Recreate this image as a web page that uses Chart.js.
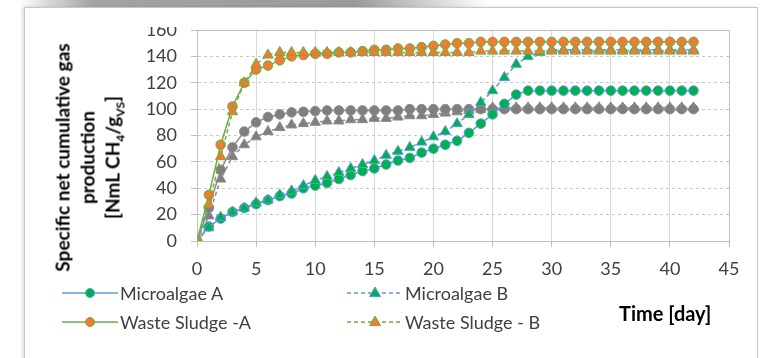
<!DOCTYPE html>
<html>
<head>
<meta charset="utf-8">
<script src="https://cdn.jsdelivr.net/npm/chart.js@4.4.1/dist/chart.umd.min.js"></script>
<style>
  html, body { margin: 0; padding: 0; background: #fff; }
  body { width: 774px; height: 358px; position: relative; overflow: hidden; font-family: Lato, 'Open Sans', sans-serif; }
  #shade { position: absolute; left: 18px; top: 0; width: 470px; height: 7px;
           background: linear-gradient(to right, #fff 0%, #a3a3a3 16%, #9b9b9b 72%, #fff 100%); }
  #card { position: absolute; left: 24px; top: 7px; width: 732px; height: 360px;
          border: 1px solid #c8c8c8; background: #fff; box-shadow: -2px 0 3px rgba(0,0,0,.12); }
  canvas { position: absolute; left: 0; top: 0; }
  #clip { position: absolute; left: 140px; top: 9px; width: 54px; height: 18px; background: #fff; z-index: 3; }
  #ytitle { position: absolute; left: -63px; top: 120px; width: 300px; height: 75px;
            transform: rotate(-90deg); text-align: center; font-weight: 700; font-size: 19px;
            line-height: 25px; color: #000; z-index: 2; }
  #ytitle sub { font-size: 12px; line-height: 0; }
  .lg { position: absolute; display: flex; align-items: center; font-size: 18px; color: #404040; z-index: 2; }
  .lg svg { margin-right: 2px; }
  #xtitle { position: absolute; left: 619px; top: 301px; font-weight: 700; font-size: 20px; color: #000; z-index: 2; }
</style>
</head>
<body>
<div id="shade"></div>
<div id="card"></div>
<canvas id="chart" width="774" height="358"></canvas>
<div id="clip"></div>
<div id="ytitle">Specific net cumulative gas<br>production<br>[NmL CH<sub>4</sub>/g<sub>VS</sub>]</div>
<div id="legend"></div>
<div id="xtitle">Time [day]</div>
<script>
// ---- data ----
const days = [0,1,2,3,4,5,6,7,8,9,10,11,12,13,14,15,16,17,18,19,20,
              21,22,23,24,25,26,27,28,29,30,31,32,33,34,35,36,37,38,39,40,41,42];

const microalgaeA = [0,11,17,22,25,28,31,34,36,40,42,44,47,50,53,55,58,61,63,67,70,
                     73,76,82,89,96,104,111,114,114,114,114,114,114,114,114,114,114,114,114,114,114,114];
const microalgaeB = [0,10,18,22,25,29,31,35,38,42,46,49,52,55,58,61,65,68,71,75,79,
                     83,89,96,105,114,124,134,140,143,145,145,145,145,145,145,145,145,145,145,145,145,145];
const sludgeA     = [0,35,73,102,120,130,133,137,140,141,142,142,143,143,144,145,145,146,146,147,148,
                     149,150,150,151,151,151,151,151,151,151,151,151,151,151,151,151,151,151,151,151,151,151];
const sludgeB     = [0,28,64,98,120,134,141,143,143,143,143,143,143,143,143,143,143,143,143,143,143,
                     143,143,143,144,144,144,144,144,144,144,144,144,144,144,144,144,144,144,144,144,144,144];
const grayCircle  = [0,25,54,71,83,90,94,96,97.5,98,98.5,99,99,99,99,99,99,99,100,100,100,
                     100,100,100,100,100,100,100,100,100,100,100,100,100,100,100,100,100,100,100,100,100,100];
const grayTriangle= [0,19,47,64,73,79,83,86,88,89,90,91,91,92,92,93,93,94,95,95,96,
                     97,98,99,100,101,101,101,101,101,101,101,101,101,101,101,101,101,101,101,101,101,101];

const xTicks = [0,5,10,15,20,25,30,35,40,45];
const yTicks = [0,20,40,60,80,100,120,140,160];

const BLUE = '#5B9BD5', GREEN_MK = '#00B050', GREEN_LN = '#70AD47', ORANGE = '#ED7D31', GRAY = '#7F7F7F';

const toXY = vals => days.map((d, i) => ({ x: d, y: vals[i] }));

const series = [
  { label: 'Waste Sludge - B', data: sludgeB,     line: GREEN_LN, mark: ORANGE,   shape: 'triangle', dash: [4,3], legend: true },
  { label: 'Waste Sludge -A',  data: sludgeA,     line: GREEN_LN, mark: ORANGE,   shape: 'circle',   dash: [],    legend: true },
  { label: 'Microalgae B',     data: microalgaeB, line: BLUE,     mark: GREEN_MK, shape: 'triangle', dash: [4,3], legend: true },
  { label: 'Microalgae A',     data: microalgaeA, line: BLUE,     mark: GREEN_MK, shape: 'circle',   dash: [],    legend: true },
  { label: '',                 data: grayCircle,  line: '#8C8C8C', mark: GRAY,    shape: 'circle',   dash: [],    legend: false },
  { label: '',                 data: grayTriangle,line: '#8C8C8C', mark: GRAY,    shape: 'triangle', dash: [4,3], legend: false },
];

const datasets = series.map(s => ({
  label: s.label,
  data: toXY(s.data),
  borderColor: s.line,
  borderWidth: 1.5,
  borderDash: s.dash,
  backgroundColor: s.mark,
  pointBackgroundColor: s.mark,
  pointBorderColor: s.line,
  pointBorderWidth: 1,
  pointStyle: s.shape,
  pointRadius: s.shape === 'triangle' ? 6 : 4.8,
  tension: 0,
  fill: false,
}));

// border around the plot area
const frame = {
  id: 'frame',
  afterDraw(chart) {
    const { ctx, chartArea: a } = chart;
    ctx.save();
    ctx.strokeStyle = '#BFBFBF';
    ctx.lineWidth = 1;
    ctx.beginPath();
    ctx.moveTo(a.left, a.top + 0.5);
    ctx.lineTo(a.right + 0.5, a.top + 0.5);
    ctx.lineTo(a.right + 0.5, a.bottom);
    ctx.stroke();
    ctx.restore();
  }
};

const tickFont = { family: 'Lato', size: 18 };

new Chart(document.getElementById('chart'), {
  type: 'line',
  data: { datasets },
  plugins: [frame],
  options: {
    responsive: false,
    animation: false,
    devicePixelRatio: 1,
    layout: { padding: { left: 137, right: 45, top: 30, bottom: 77 } },
    plugins: { legend: { display: false }, tooltip: { enabled: false } },
    scales: {
      x: {
        type: 'linear', min: 0, max: 45,
        afterFit: s => { s.height = 40; },
        afterBuildTicks: s => { s.ticks = xTicks.map(v => ({ value: v })); },
        ticks: { font: tickFont, color: '#404040', padding: 11, maxRotation: 0 },
        grid: { color: '#D9D9D9', tickColor: '#BFBFBF', tickLength: 6 },
        border: { color: '#BFBFBF' },
      },
      y: {
        min: 0, max: 160,
        afterFit: s => { s.width = 60; },
        afterBuildTicks: s => { s.ticks = yTicks.map(v => ({ value: v })); },
        ticks: { font: tickFont, color: '#404040', padding: 14 },
        grid: { color: '#C8C8C8', tickColor: '#BFBFBF', tickLength: 6 },
        border: { color: '#BFBFBF', dash: [3,3] },
      },
    },
  },
});

// legend in a 2 x 2 layout, as in the picture
const legendPos = {
  'Microalgae A':     { left: 62,  top: 282 },
  'Microalgae B':     { left: 347, top: 282 },
  'Waste Sludge -A':  { left: 62,  top: 311 },
  'Waste Sludge - B': { left: 347, top: 311 },
};
const legendEl = document.getElementById('legend');
series.filter(s => s.legend).forEach(s => {
  const p = legendPos[s.label];
  const marker = s.shape === 'circle'
    ? `<circle cx="28" cy="8" r="4.5" fill="${s.mark}" stroke="${s.line}" stroke-width="1"/>`
    : `<polygon points="28,2 33.5,11.5 22.5,11.5" fill="${s.mark}" stroke="${s.line}" stroke-width="1"/>`;
  const item = document.createElement('div');
  item.className = 'lg';
  item.style.left = p.left + 'px';
  item.style.top = p.top + 'px';
  item.innerHTML = `<svg width="56" height="16"><line x1="0" y1="8" x2="56" y2="8" stroke="${s.line}" stroke-width="1.5" stroke-dasharray="${s.dash.join(',')}"/>${marker}</svg><span>${s.label}</span>`;
  legendEl.appendChild(item);
});
</script>
</body>
</html>
